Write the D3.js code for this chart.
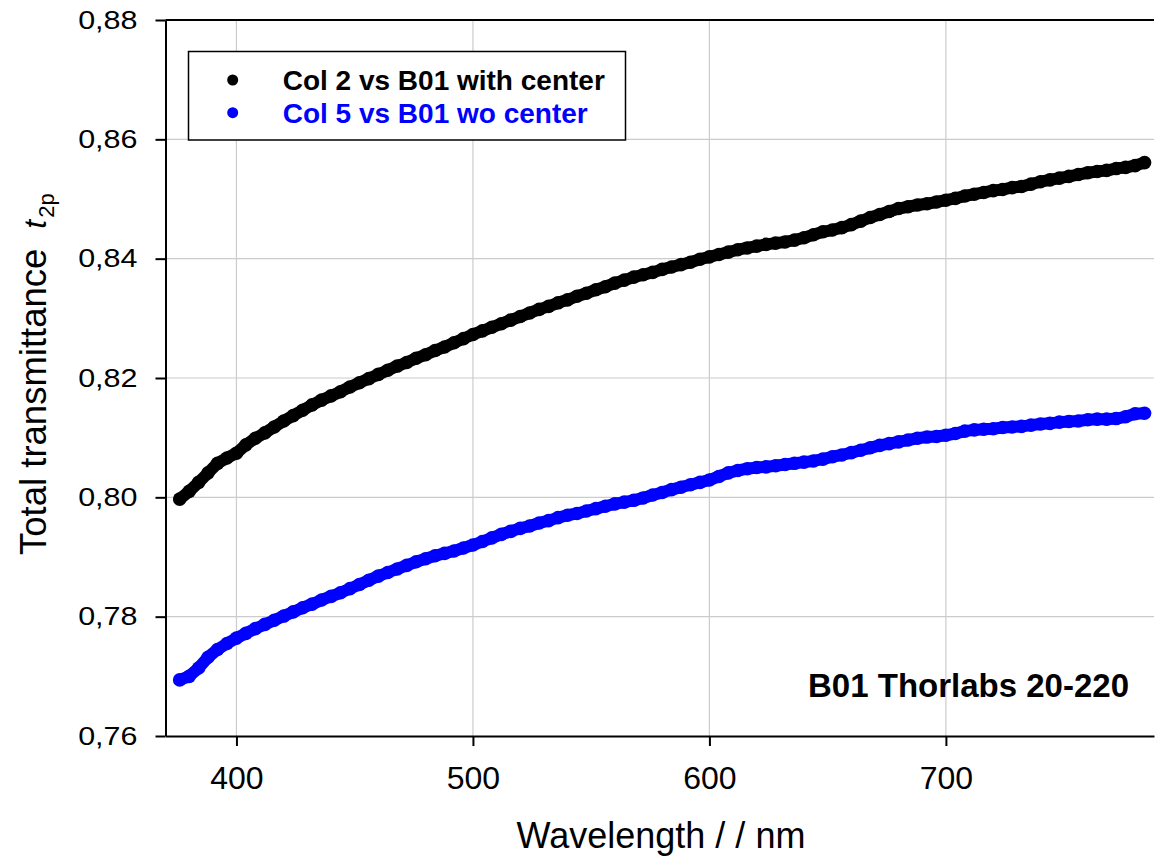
<!DOCTYPE html>
<html>
<head>
<meta charset="utf-8">
<script src="https://cdn.jsdelivr.net/npm/d3@7"></script>
<style>
  body { margin: 0; background: #fff; }
  svg text { font-family: "Liberation Sans", Arial, sans-serif; }
</style>
</head>
<body>
<div id="chart"></div>
<script>
// wavelengths (nm), one value every 4 nm
const wavelengths = d3.range(376, 785, 4);

// Col 2 vs B01 with center
const withCenter = [
  0.7997, 0.8010, 0.8025, 0.8041, 0.8057, 0.8066, 0.8074, 0.8088, 0.8099, 0.8108,
  0.8118, 0.8128, 0.8137, 0.8146, 0.8155, 0.8163, 0.8170, 0.8177, 0.8185, 0.8192,
  0.8199, 0.8206, 0.8213, 0.8220, 0.8226, 0.8233, 0.8239, 0.8246, 0.8252, 0.8259,
  0.8266, 0.8273, 0.8279, 0.8285, 0.8291, 0.8297, 0.8303, 0.8309, 0.8315, 0.8320,
  0.8326, 0.8331, 0.8337, 0.8342, 0.8348, 0.8353, 0.8359, 0.8364, 0.8369, 0.8373,
  0.8377, 0.8382, 0.8386, 0.8390, 0.8394, 0.8399, 0.8403, 0.8407, 0.8411, 0.8415,
  0.8418, 0.8421, 0.8424, 0.8426, 0.8428, 0.8431, 0.8435, 0.8440, 0.8445, 0.8448,
  0.8452, 0.8457, 0.8463, 0.8469, 0.8474, 0.8479, 0.8484, 0.8487, 0.8490, 0.8492,
  0.8495, 0.8498, 0.8501, 0.8505, 0.8508, 0.8511, 0.8514, 0.8516, 0.8519, 0.8521,
  0.8525, 0.8529, 0.8532, 0.8535, 0.8538, 0.8541, 0.8544, 0.8546, 0.8548, 0.8551,
  0.8553, 0.8556, 0.8561
];

// Col 5 vs B01 wo center
const woCenter = [
  0.7694, 0.7700, 0.7714, 0.7732, 0.7745, 0.7755, 0.7764, 0.7772, 0.7780, 0.7787,
  0.7794, 0.7801, 0.7808, 0.7815, 0.7821, 0.7828, 0.7834, 0.7840, 0.7847, 0.7854,
  0.7861, 0.7868, 0.7874, 0.7880, 0.7886, 0.7892, 0.7897, 0.7902, 0.7906, 0.7910,
  0.7915, 0.7920, 0.7926, 0.7932, 0.7938, 0.7943, 0.7948, 0.7952, 0.7957, 0.7961,
  0.7966, 0.7970, 0.7973, 0.7977, 0.7981, 0.7985, 0.7989, 0.7992, 0.7995, 0.7999,
  0.8004, 0.8008, 0.8013, 0.8017, 0.8021, 0.8025, 0.8029, 0.8035, 0.8041, 0.8045,
  0.8048, 0.8050, 0.8051, 0.8053, 0.8055, 0.8057, 0.8059, 0.8061, 0.8064, 0.8068,
  0.8071, 0.8075, 0.8079, 0.8083, 0.8087, 0.8090, 0.8093, 0.8096, 0.8099, 0.8101,
  0.8102, 0.8104, 0.8107, 0.8111, 0.8113, 0.8114, 0.8115, 0.8117, 0.8118, 0.8119,
  0.8121, 0.8123, 0.8124, 0.8126, 0.8127, 0.8128, 0.8130, 0.8131, 0.8131, 0.8132,
  0.8135, 0.8140, 0.8141
];

const xTicks = [400, 500, 600, 700];
const yTicks = [0.76, 0.78, 0.80, 0.82, 0.84, 0.86, 0.88];
const seriesNames = ["Col 2 vs B01 with center", "Col 5 vs B01 wo center"];
const seriesColors = ["#000000", "#0000ff"];

const W = 1157, H = 856;
const m = { left: 165.5, right: 1154, top: 20, bottom: 736 };

const svg = d3.select("#chart").append("svg")
  .attr("width", W)
  .attr("height", H);

const x = d3.scaleLinear().domain([370, 788]).range([m.left, m.right]);
const y = d3.scaleLinear().domain([0.76, 0.88]).range([m.bottom, m.top]);

// grid
svg.append("g").selectAll("line")
  .data(xTicks).join("line")
  .attr("x1", d => x(d)).attr("x2", d => x(d))
  .attr("y1", m.top).attr("y2", m.bottom)
  .attr("stroke", "#cccccc").attr("stroke-width", 1.2);
svg.append("g").selectAll("line")
  .data(yTicks.slice(1, -1)).join("line")
  .attr("x1", m.left).attr("x2", m.right)
  .attr("y1", d => y(d)).attr("y2", d => y(d))
  .attr("stroke", "#cccccc").attr("stroke-width", 1.2);

// data points - the symbols are so dense they merge into a band,
// so a thick round line goes under the circles to close the gaps
const series = [withCenter, woCenter];
const line = d3.line().x(d => x(d[0])).y(d => y(d[1]));
series.forEach((vals, i) => {
  const pts = vals.map((v, j) => [wavelengths[j], v]);
  svg.append("path")
    .datum(pts)
    .attr("d", line)
    .attr("fill", "none")
    .attr("stroke", seriesColors[i])
    .attr("stroke-width", 12)
    .attr("stroke-linejoin", "round")
    .attr("stroke-linecap", "round");
  svg.append("g").selectAll("circle")
    .data(pts)
    .join("circle")
    .attr("cx", d => x(d[0]))
    .attr("cy", d => y(d[1]))
    .attr("r", 6.8)
    .attr("fill", seriesColors[i]);
});

// axes
const xAxis = svg.append("g")
  .attr("transform", `translate(0,${m.bottom})`)
  .call(d3.axisBottom(x).tickValues(xTicks).tickSize(10).tickSizeOuter(0).tickPadding(20));
xAxis.selectAll("text")
  .attr("font-size", 32)
  .attr("fill", "#000")
  .style("font-family", "Liberation Sans, Arial, sans-serif");

const yAxis = svg.append("g")
  .attr("transform", `translate(${m.left},0)`)
  .call(d3.axisLeft(y).tickValues(yTicks).tickSize(10).tickSizeOuter(0)
    .tickFormat(d => d3.format(".2f")(d).replace(".", ",")));
yAxis.selectAll("text")
  .attr("font-size", 25)
  .attr("fill", "#000")
  .attr("x", -28 / 1.22)
  .attr("transform", "scale(1.22,1)")
  .style("font-family", "Liberation Sans, Arial, sans-serif");

[xAxis, yAxis].forEach(a => {
  a.select(".domain").attr("stroke", "#000").attr("stroke-width", 2);
  a.selectAll(".tick line").attr("stroke", "#000").attr("stroke-width", 2);
});

// top frame line
svg.append("line")
  .attr("x1", m.left).attr("x2", m.right)
  .attr("y1", m.top).attr("y2", m.top)
  .attr("stroke", "#000").attr("stroke-width", 2);

// axis titles
svg.append("text")
  .attr("x", 661).attr("y", 848)
  .attr("text-anchor", "middle")
  .attr("font-size", 36)
  .text("Wavelength / / nm");

const yTitle = svg.append("text")
  .attr("transform", "translate(46,555) rotate(-90)")
  .attr("font-size", 36.5);
yTitle.append("tspan").text("Total transmittance");
yTitle.append("tspan").attr("dx", 20).attr("font-style", "italic").attr("font-size", 32).text("t");
yTitle.append("tspan").attr("font-size", 22).attr("dy", 8).attr("dx", 2).text("2p");

// legend
const legend = svg.append("g");
legend.append("rect")
  .attr("x", 188.5).attr("y", 51.5)
  .attr("width", 437).attr("height", 88.5)
  .attr("fill", "#fff").attr("stroke", "#000").attr("stroke-width", 1.5);
seriesNames.forEach((name, i) => {
  const ly = 80 + i * 32.7;
  legend.append("circle")
    .attr("cx", 232.7).attr("cy", ly).attr("r", 5.5)
    .attr("fill", seriesColors[i]);
  legend.append("text")
    .attr("x", 282.7).attr("y", ly + 10)
    .attr("font-size", 28).attr("font-weight", "bold")
    .attr("fill", seriesColors[i])
    .text(name);
});

// annotation
svg.append("text")
  .attr("x", 1129).attr("y", 697)
  .attr("text-anchor", "end")
  .attr("font-size", 33).attr("font-weight", "bold")
  .text("B01 Thorlabs 20-220");
</script>
</body>
</html>
